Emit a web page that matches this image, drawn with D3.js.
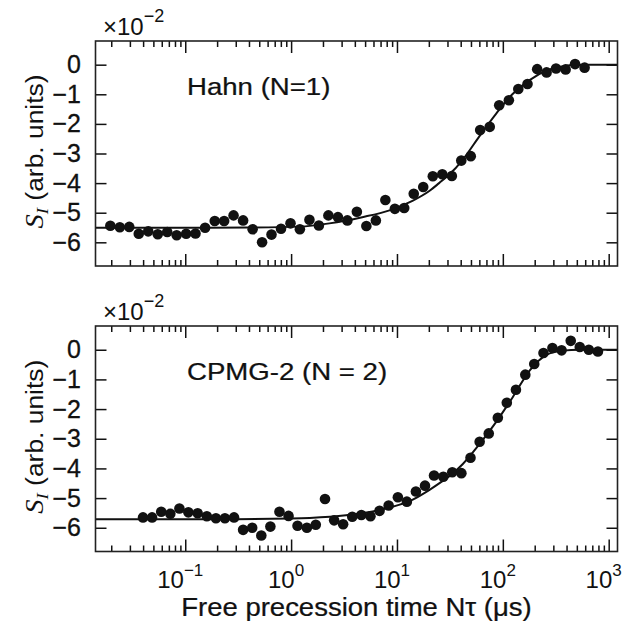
<!DOCTYPE html>
<html><head><meta charset="utf-8">
<script src="https://cdn.jsdelivr.net/npm/d3@7"></script>
<style>body{margin:0;background:#fff}</style>
</head><body>
<svg id="c" width="636" height="624" xmlns="http://www.w3.org/2000/svg"></svg>
<script>
// ---- data ----
const hahnTime = [0.0196,0.0241,0.0296,0.0364,0.0447,0.0550,0.0676,0.0830,0.102,0.125,0.154,0.190,0.233,0.286,0.352,0.433,0.532,0.653,0.803,0.987,1.21,1.49,1.83,2.25,2.77,3.40,4.18,5.14,6.32,7.77,9.55,11.7,14.4,17.7,21.8,26.8,33.0,40.5,49.8,61.1,75.2,92.4,114,140,171,211,259,318,392,481,592];
const hahnSignal = [-5.44,-5.49,-5.48,-5.71,-5.63,-5.73,-5.65,-5.76,-5.71,-5.70,-5.51,-5.28,-5.28,-5.09,-5.26,-5.56,-6.00,-5.74,-5.54,-5.36,-5.56,-5.24,-5.43,-5.09,-5.15,-5.26,-4.97,-5.45,-5.26,-4.57,-4.87,-4.84,-4.36,-4.13,-3.77,-3.70,-3.76,-3.24,-3.09,-2.21,-2.10,-1.37,-1.20,-0.82,-0.65,-0.15,-0.26,-0.13,-0.16,0.02,-0.10];
const cpmgTime = [0.0399,0.0486,0.0593,0.0723,0.0881,0.107,0.131,0.160,0.195,0.237,0.289,0.352,0.429,0.523,0.637,0.776,0.946,1.15,1.41,1.71,2.09,2.55,3.10,3.78,4.61,5.62,6.85,8.34,10.2,12.4,15.1,18.4,22.4,27.4,33.3,40.6,49.5,60.4,73.6,89.7,109,133,163,198,242,294,359,438,533,649,791];
const cpmgSignal = [-5.65,-5.65,-5.46,-5.53,-5.35,-5.48,-5.51,-5.61,-5.68,-5.68,-5.65,-6.07,-6.00,-6.26,-5.96,-5.46,-5.60,-5.93,-6.00,-5.90,-5.03,-5.75,-5.88,-5.63,-5.57,-5.61,-5.43,-5.25,-4.97,-5.12,-4.78,-4.58,-4.24,-4.28,-4.13,-4.16,-3.64,-3.10,-2.82,-2.29,-1.79,-1.35,-0.84,-0.48,-0.11,0.06,-0.02,0.30,0.09,0.00,-0.06];
const hahnFitTime = [0.0142,0.1,0.4,1.2,2.3,4.7,8.5,14,20.5,25,31,41.6,60,86.6,123,179,258,370,530,1211];
const hahnFitSignal = [-5.51,-5.51,-5.50,-5.47,-5.36,-5.15,-4.92,-4.60,-4.25,-4.00,-3.72,-3.22,-2.42,-1.65,-1.00,-0.52,-0.20,-0.05,0,0];
const cpmgFitTime = [0.0142,0.3,1,1.5,3.3,6.8,14.1,20.3,27.1,31.3,41.9,60.2,86.6,124,179,257,369,530,1211];
const cpmgFitSignal = [-5.71,-5.71,-5.69,-5.67,-5.58,-5.40,-5.05,-4.72,-4.42,-4.26,-3.85,-3.18,-2.43,-1.60,-0.70,-0.18,-0.03,0,0];
const yTicks = [0,-1,-2,-3,-4,-5,-6];
const yTickLabels = ["0","\u22121","\u22122","\u22123","\u22124","\u22125","\u22126"];
const xMajor = [0.1,1,10,100,1000];
const xTickExponents = ["\u22121","0","1","2","3"];
const panelLabels = ["Hahn (N=1)","CPMG-2 (N = 2)"];
const xDomain = [0.0142,1211];
const yDomain = [-6.8,0.8];

// ---- layout ----
const svg = d3.select("#c");
const L = 95.5, R = 617.5;
const SANS = "'Liberation Sans', Arial, Helvetica, sans-serif";
const SERIF = "'Liberation Serif', 'Times New Roman', serif";
const ink = "#111";
const x = d3.scaleLog().domain(xDomain).range([L, R]);

const minor = [];
for (let d = -2; d <= 3; d++) for (let k = 2; k <= 9; k++) {
  const v = k * Math.pow(10, d);
  if (v > xDomain[0] && v < xDomain[1]) minor.push(v);
}

const panels = [
  {top: 41, bottom: 266, t: hahnTime, s: hahnSignal, ft: hahnFitTime, fs: hahnFitSignal, label: panelLabels[0], showX: false},
  {top: 326, bottom: 551.5, t: cpmgTime, s: cpmgSignal, ft: cpmgFitTime, fs: cpmgFitSignal, label: panelLabels[1], showX: true}
];

function stretchText(g, px, py, sx, anchor) {
  return g.append("text").attr("transform", `translate(${px},${py}) scale(${sx},1)`)
    .attr("text-anchor", anchor).attr("font-family", SANS).attr("fill", ink)
    .attr("stroke", ink).attr("stroke-width", 0.25);
}

panels.forEach((p, pi) => {
  const y = d3.scaleLinear().domain(yDomain).range([p.bottom, p.top]);
  const g = svg.append("g");
  const clipId = "clip" + pi;
  svg.append("clipPath").attr("id", clipId).append("rect")
    .attr("x", L).attr("y", p.top).attr("width", R - L).attr("height", p.bottom - p.top);

  // fit line
  const line = d3.line().x((d, i) => x(p.ft[i])).y((d, i) => y(p.fs[i])).curve(d3.curveMonotoneX);
  g.append("path").datum(p.ft).attr("d", line).attr("fill", "none")
    .attr("stroke", ink).attr("stroke-width", 2).attr("clip-path", `url(#${clipId})`);

  // points
  g.selectAll("circle.pt").data(p.t).join("circle").attr("class", "pt")
    .attr("cx", d => x(d)).attr("cy", (d, i) => y(p.s[i])).attr("r", 5.3).attr("fill", ink);

  // axes: ticks inward on all sides
  const bottomAx = d3.axisBottom(x).tickValues(xMajor).tickSize(-12).tickFormat("");
  const topAx = d3.axisTop(x).tickValues(xMajor).tickSize(-12).tickFormat("");
  const bottomMinor = d3.axisBottom(x).tickValues(minor).tickSize(-6).tickFormat("");
  const topMinor = d3.axisTop(x).tickValues(minor).tickSize(-6).tickFormat("");
  const leftAx = d3.axisLeft(y).tickValues(yTicks).tickSize(-11).tickFormat("");
  const rightAx = d3.axisRight(y).tickValues(yTicks).tickSize(-11).tickFormat("");
  [[bottomAx, `translate(0,${p.bottom})`], [topAx, `translate(0,${p.top})`],
   [bottomMinor, `translate(0,${p.bottom})`], [topMinor, `translate(0,${p.top})`],
   [leftAx, `translate(${L},0)`], [rightAx, `translate(${R},0)`]].forEach(([ax, tr]) => {
    const a = g.append("g").attr("transform", tr).call(ax);
    a.select(".domain").remove();
    a.selectAll("line").attr("stroke", ink).attr("stroke-width", 1.5);
  });
  g.append("rect").attr("x", L).attr("y", p.top).attr("width", R - L).attr("height", p.bottom - p.top)
    .attr("fill", "none").attr("stroke", "#222").attr("stroke-width", 1.6);

  // y tick labels
  yTicks.forEach((v, i) => {
    g.append("text").attr("x", 81).attr("y", y(v) + 8.5).attr("text-anchor", "end")
      .attr("font-family", SANS).attr("font-size", 25).attr("fill", ink)
      .attr("stroke", ink).attr("stroke-width", 0.3).text(yTickLabels[i]);
  });

  // x10^-2
  const m = g.append("text").attr("x", 103).attr("y", p.top - 6)
    .attr("font-family", SANS).attr("font-size", 24).attr("fill", ink);
  m.append("tspan").text("\u00d710");
  m.append("tspan").attr("dy", -13).attr("font-size", 18).text("\u22122");

  // panel label
  stretchText(g, 187, y(-1) + 1, 1.15, "start").attr("font-size", 24).text(p.label);

  // y-axis title
  const yc = (p.top + p.bottom) / 2 - 2;
  const yt = g.append("text").attr("transform", `translate(43,${yc}) rotate(-90) scale(1.1,1)`)
    .attr("text-anchor", "middle").attr("font-family", SANS).attr("font-size", 24).attr("fill", ink);
  yt.append("tspan").attr("font-family", SERIF).attr("font-style", "italic").attr("font-size", 26).text("S");
  yt.append("tspan").attr("font-family", SERIF).attr("font-style", "italic").attr("font-size", 17).attr("dy", 5).text("I");
  yt.append("tspan").attr("dy", -5).text(" (arb. units)");

  // x tick labels
  if (p.showX) {
    xMajor.forEach((v, i) => {
      const t = g.append("text").attr("x", x(v) - 5).attr("y", 588).attr("text-anchor", "middle")
        .attr("font-family", SANS).attr("font-size", 24).attr("fill", ink);
      t.append("tspan").text("10");
      t.append("tspan").attr("dy", -12).attr("font-size", 17).text(xTickExponents[i]);
    });
  }
});

// x-axis title
stretchText(svg, (L + R) / 2, 616, 1.1, "middle").attr("font-size", 25)
  .text("Free precession time N\u03c4 (\u03bcs)");
</script>
</body></html>
